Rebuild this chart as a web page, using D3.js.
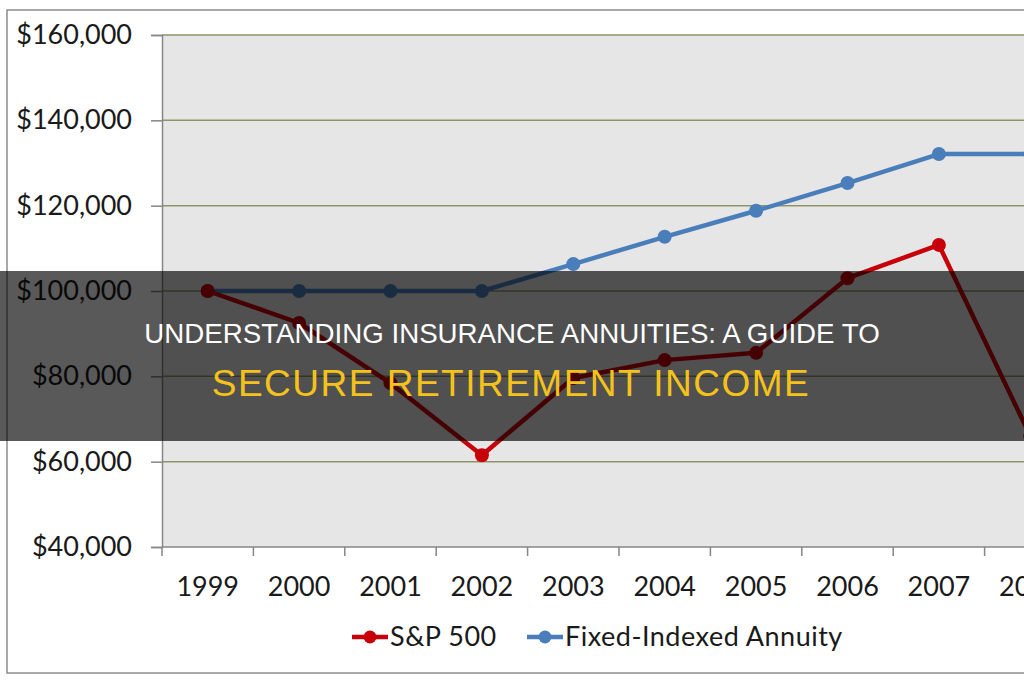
<!DOCTYPE html>
<html>
<head>
<meta charset="utf-8">
<script src="https://cdn.jsdelivr.net/npm/d3@7"></script>
<style>
  html, body { margin: 0; padding: 0; background: #fff; }
  svg { display: block; }
</style>
</head>
<body>
<div id="chart"></div>
<script>
// Values
const years = [1999, 2000, 2001, 2002, 2003, 2004, 2005, 2006, 2007, 2008];
const sp500 = [100000, 92500, 78400, 61500, 79600, 83800, 85500, 103000, 110800, 66000];
const annuity = [100000, 100000, 100000, 100000, 106300, 112700, 118800, 125300, 132100, 132100];
const yTicks = [40000, 60000, 80000, 100000, 120000, 140000, 160000];
const seriesNames = ["S&P 500", "Fixed-Indexed Annuity"];
const titleLines = ["UNDERSTANDING INSURANCE ANNUITIES: A GUIDE TO", "SECURE RETIREMENT INCOME"];

const W = 1024, H = 680;
const plot = { left: 162, top: 35, bottom: 547, band: 91.4 };
const axisFont = "Lato, 'Open Sans', sans-serif";

const svg = d3.select("#chart").append("svg")
  .attr("width", W)
  .attr("height", H);

// Chart frame (cropped on the right)
svg.append("rect")
  .attr("x", 7).attr("y", 10)
  .attr("width", W + 20).attr("height", 663)
  .attr("fill", "#fff")
  .attr("stroke", "#8c8c8c").attr("stroke-width", 1.5);

const x = d3.scaleBand()
  .domain(years)
  .range([plot.left, plot.left + plot.band * years.length]);

const y = d3.scaleLinear()
  .domain([40000, 160000])
  .range([plot.bottom, plot.top]);

svg.append("rect")
  .attr("x", plot.left).attr("y", plot.top)
  .attr("width", x.range()[1] - plot.left)
  .attr("height", plot.bottom - plot.top)
  .attr("fill", "#e6e6e6");

// Gridlines
svg.append("g")
  .selectAll("line")
  .data(yTicks.filter(d => d > 40000))
  .join("line")
  .attr("x1", plot.left).attr("x2", x.range()[1])
  .attr("y1", d => y(d)).attr("y2", d => y(d))
  .attr("stroke", "#8f9468").attr("stroke-width", 1.5);

// Y axis
const yAxis = svg.append("g")
  .attr("transform", `translate(${plot.left},0)`)
  .call(d3.axisLeft(y).tickValues(yTicks).tickSize(11).tickPadding(19)
    .tickFormat(d => "$" + d3.format(",")(d)));
yAxis.select(".domain").attr("stroke", "#868686").attr("stroke-width", 1.5);
yAxis.selectAll(".tick line").attr("stroke", "#868686").attr("stroke-width", 1.5);
yAxis.selectAll("text")
  .attr("font-family", axisFont).attr("font-size", 27).attr("fill", "#1a1a1a");

// X axis, ticks between categories
const xAxis = svg.append("g")
  .attr("transform", `translate(0,${plot.bottom})`);
xAxis.append("line")
  .attr("x1", plot.left).attr("x2", x.range()[1])
  .attr("stroke", "#868686").attr("stroke-width", 1.5);
xAxis.selectAll("line.tk")
  .data(years)
  .join("line")
  .attr("class", "tk")
  .attr("x1", d => x(d)).attr("x2", d => x(d))
  .attr("y1", 0).attr("y2", 9)
  .attr("stroke", "#868686").attr("stroke-width", 1.5);
xAxis.selectAll("text")
  .data(years)
  .join("text")
  .attr("x", d => x(d) + x.bandwidth() / 2)
  .attr("y", 49)
  .attr("text-anchor", "middle")
  .attr("font-family", axisFont).attr("font-size", 27).attr("fill", "#1a1a1a")
  .text(d => d);

const series = [
  { name: seriesNames[0], values: sp500, color: "#c8000a" },
  { name: seriesNames[1], values: annuity, color: "#4a7ebb" }
];

const line = d3.line()
  .x((d, i) => x(years[i]) + x.bandwidth() / 2)
  .y(d => y(d));

// Annuity first so the S&P line sits on top where they meet
series.slice().reverse().forEach(s => {
  const g = svg.append("g");
  g.append("path")
    .datum(s.values)
    .attr("d", line)
    .attr("fill", "none")
    .attr("stroke", s.color)
    .attr("stroke-width", 4.5)
    .attr("stroke-linejoin", "round");
  g.selectAll("circle")
    .data(s.values)
    .join("circle")
    .attr("cx", (d, i) => x(years[i]) + x.bandwidth() / 2)
    .attr("cy", d => y(d))
    .attr("r", 7)
    .attr("fill", s.color);
});

// Legend
const legendX = [352, 527];
const lg = svg.append("g").attr("transform", "translate(0,637)");
series.forEach((s, i) => {
  const item = lg.append("g").attr("transform", `translate(${legendX[i]},0)`);
  item.append("line")
    .attr("x1", 0).attr("x2", 36)
    .attr("stroke", s.color).attr("stroke-width", 4.5);
  item.append("circle").attr("cx", 18).attr("r", 6.5).attr("fill", s.color);
  item.append("text")
    .attr("x", 38).attr("y", 9)
    .attr("font-family", axisFont).attr("font-size", 27).attr("fill", "#1a1a1a")
    .attr("letter-spacing", 0.5)
    .text(s.name);
});

// Dark title band over the chart
svg.append("rect")
  .attr("x", 0).attr("y", 271)
  .attr("width", W).attr("height", 170)
  .attr("fill", "#000").attr("fill-opacity", 0.65);

svg.append("text")
  .attr("x", 512).attr("y", 343)
  .attr("text-anchor", "middle")
  .attr("font-family", "'Liberation Sans', Arial, sans-serif")
  .attr("font-size", 27.7).attr("fill", "#fff")
  .text(titleLines[0]);

svg.append("text")
  .attr("x", 511).attr("y", 396)
  .attr("text-anchor", "middle")
  .attr("font-family", "'Liberation Sans', Arial, sans-serif")
  .attr("font-size", 37).attr("letter-spacing", 1.5).attr("fill", "#f5c21b")
  .text(titleLines[1]);
</script>
</body>
</html>
